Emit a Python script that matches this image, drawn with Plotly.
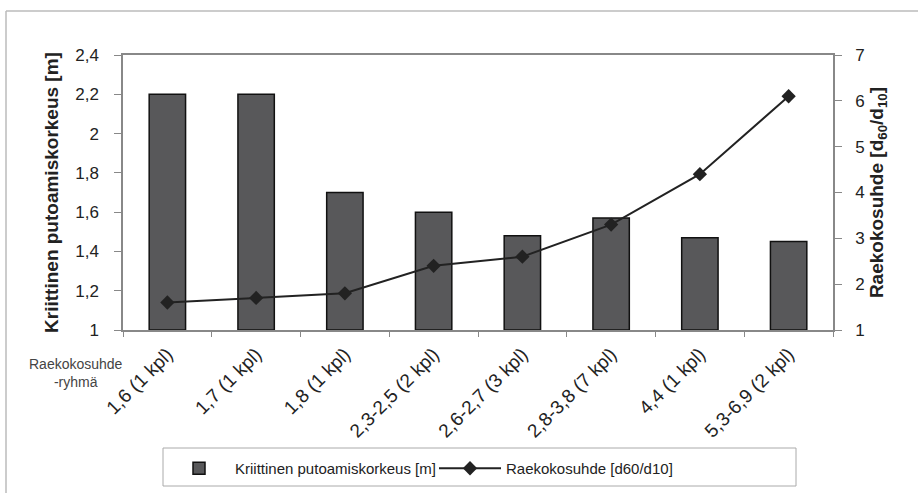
import plotly.graph_objects as go

categories = ["1,6 (1 kpl)", "1,7 (1 kpl)", "1,8 (1 kpl)", "2,3-2,5 (2 kpl)",
              "2,6-2,7 (3 kpl)", "2,8-3,8 (7 kpl)", "4,4 (1 kpl)", "5,3-6,9 (2 kpl)"]
putoamiskorkeus = [2.2, 2.2, 1.7, 1.6, 1.48, 1.57, 1.47, 1.45]
raekokosuhde = [1.6, 1.7, 1.8, 2.4, 2.6, 3.3, 4.4, 6.1]
left_ticks = [1, 1.2, 1.4, 1.6, 1.8, 2, 2.2, 2.4]
left_ticktext = ["1", "1,2", "1,4", "1,6", "1,8", "2", "2,2", "2,4"]
right_ticks = [1, 2, 3, 4, 5, 6, 7]

FONT = "Liberation Sans, Arial, sans-serif"

fig = go.Figure()
fig.add_trace(go.Bar(
    x=categories, y=[v - 1 for v in putoamiskorkeus], base=1,
    name="Kriittinen putoamiskorkeus [m]",
    marker=dict(color="#58585a", line=dict(color="#111111", width=1.5)),
    yaxis="y", hoverinfo="skip"))
fig.add_trace(go.Scatter(
    x=categories, y=raekokosuhde, mode="lines+markers",
    name="Raekokosuhde [d60/d10]",
    line=dict(color="#222222", width=2),
    marker=dict(symbol="diamond", size=11, color="#222222"),
    yaxis="y2"))

axcol = "#888888"
fig.update_layout(
    width=918, height=493,
    margin=dict(l=123, r=85, t=55, b=163, autoexpand=False),
    paper_bgcolor="white", plot_bgcolor="white",
    font=dict(family=FONT, size=17, color="#222222"),
    bargap=0.59,
    showlegend=True,
    xaxis=dict(type="category", showline=True, linecolor=axcol, linewidth=1.5,
               mirror=True, ticks="outside", tickson="boundaries", ticklen=5,
               tickcolor=axcol, tickangle=-45, tickfont=dict(size=19),
               ticklabelstandoff=4, automargin=False,
               showgrid=False, range=[-0.5, 7.5]),
    yaxis=dict(range=[1, 2.4], tickvals=left_ticks, ticktext=left_ticktext,
               showline=True, linecolor=axcol, linewidth=1.5, ticks="outside",
               ticklen=7, tickcolor=axcol, showgrid=False, zeroline=False,
               ticklabelstandoff=12, automargin=False, tickfont=dict(size=17),
               title=dict(text="<b>Kriittinen putoamiskorkeus [m]</b>",
                          font=dict(size=19), standoff=12)),
    yaxis2=dict(range=[1, 7], tickvals=right_ticks, overlaying="y", side="right",
                showline=True, linecolor=axcol, linewidth=1.5, ticks="outside",
                ticklen=7, tickcolor=axcol, showgrid=False, zeroline=False,
                ticklabelstandoff=10, automargin=False, tickfont=dict(size=17),
                title=dict(text="<b>Raekokosuhde [d<sub>60</sub>/d<sub>10</sub>]</b>",
                           font=dict(size=19), standoff=6)),
    legend=dict(orientation="h", x=(163 - 123) / 710, xanchor="left",
                y=(330 - 452) / 275, yanchor="top", borderwidth=0,
                bgcolor="rgba(0,0,0,0)",
                font=dict(size=15), itemwidth=62, entrywidth=194,
                traceorder="normal"),
)

# legend frame
fig.add_shape(type="rect", xref="paper", yref="paper",
              x0=(163 - 123) / 710, x1=(796 - 123) / 710,
              y0=(330 - 448) / 275, y1=(330 - 486) / 275,
              line=dict(color="#aaaaaa", width=1), fillcolor="rgba(0,0,0,0)",
              layer="below")

fig.add_annotation(text="Raekokosuhde<br>-ryhmä", xref="paper", yref="paper",
                   x=(76 - 123) / 710, y=(330 - 373) / 275, showarrow=False,
                   xanchor="center", yanchor="middle",
                   font=dict(size=14, color="#444444"), align="center")

# outer chart frame (top and left edges visible)
fig.add_shape(type="line", xref="paper", yref="paper",
              x0=(6 - 123) / 710, x1=(925 - 123) / 710,
              y0=(330 - 11) / 275, y1=(330 - 11) / 275,
              line=dict(color="#bbbbbb", width=1.5))
fig.add_shape(type="line", xref="paper", yref="paper",
              x0=(6 - 123) / 710, x1=(6 - 123) / 710,
              y0=(330 - 11) / 275, y1=(330 - 500) / 275,
              line=dict(color="#bbbbbb", width=1.5))

fig.write_html("out.html", config={"displayModeBar": False},
               post_script="document.body.style.margin='0px';document.body.style.padding='0px';")
